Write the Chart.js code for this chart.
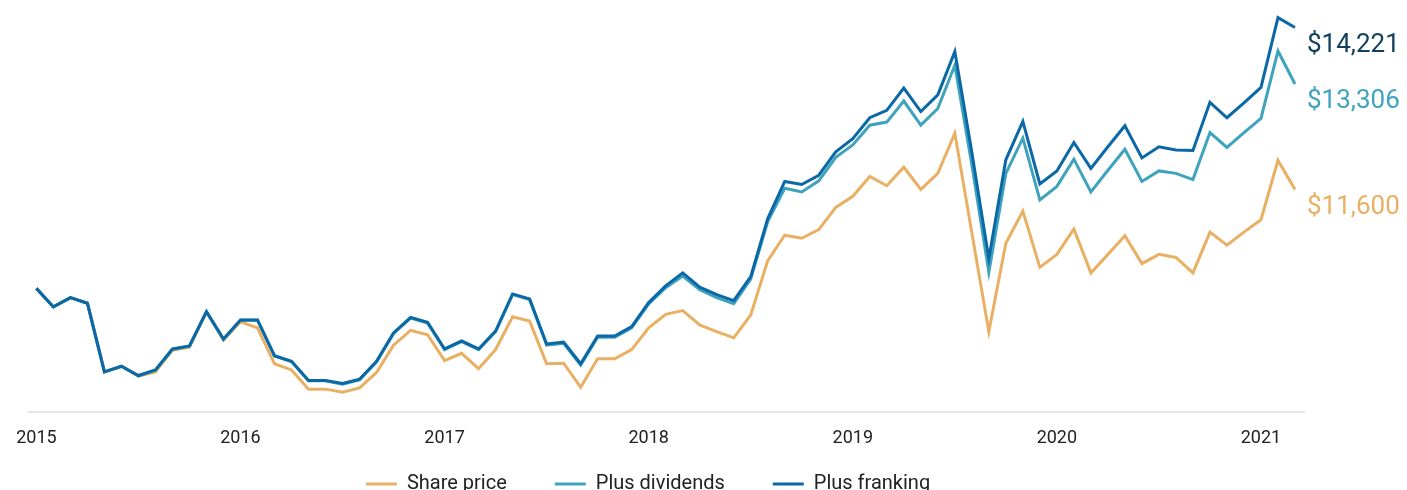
<!DOCTYPE html>
<html>
<head>
<meta charset="utf-8">
<script src="https://cdn.jsdelivr.net/npm/chart.js@4/dist/chart.umd.min.js"></script>
<style>
  html, body { margin: 0; padding: 0; background: #ffffff; overflow: hidden; }
  #wrap { position: relative; width: 1407px; height: 530px; }
</style>
</head>
<body>
<div id="wrap"><canvas id="c"></canvas></div>
<script>
// Year tick labels (one tick every 12 monthly points, starting Jan 2015)
const years = ['2015', '2016', '2017', '2018', '2019', '2020', '2021'];

// Series names
const seriesNames = ['Share price', 'Plus dividends', 'Plus franking'];

// Growth of $10,000 – monthly values, Jan 2015 to Mar 2021
const sharePrice = [
  10000, 9700, 9850, 9760, 8650, 8740, 8580, 8650, 9000, 9050,
  9620, 9160, 9460, 9360, 8780, 8680, 8370, 8370, 8320, 8390,
  8640, 9080, 9320, 9250, 8830, 8950, 8700, 9010, 9540, 9470,
  8780, 8790, 8400, 8860, 8860, 9010, 9360, 9580, 9640, 9410,
  9300, 9200, 9570, 10450, 10860, 10810, 10950, 11310, 11490, 11810,
  11660, 11960, 11600, 11860, 12510, 10900, 9300, 10730, 11250, 10340,
  10550, 10960, 10250, 10550, 10850, 10400, 10550, 10500, 10250, 10910,
  10700, 10910, 11110, 12070, 11600
];
const plusDividends = [
  10000, 9700, 9850, 9760, 8650, 8740, 8585, 8675, 9015, 9065,
  9620, 9175, 9485, 9485, 8905, 8815, 8505, 8505, 8450, 8520,
  8810, 9270, 9520, 9440, 9010, 9140, 9010, 9300, 9900, 9820,
  9080, 9110, 8760, 9210, 9210, 9360, 9750, 10010, 10200, 9980,
  9850, 9750, 10150, 11080, 11620, 11560, 11740, 12120, 12320, 12640,
  12690, 13030, 12640, 12910, 13610, 12000, 10260, 11860, 12430, 11430,
  11650, 12090, 11560, 11910, 12250, 11730, 11900, 11860, 11760, 12520,
  12280, 12520, 12750, 13840, 13306
];
const plusFranking = [
  10000, 9700, 9850, 9760, 8650, 8740, 8590, 8680, 9020, 9070,
  9625, 9180, 9490, 9490, 8910, 8820, 8510, 8510, 8460, 8530,
  8820, 9280, 9530, 9450, 9020, 9150, 9020, 9310, 9910, 9830,
  9100, 9130, 8780, 9230, 9230, 9380, 9770, 10040, 10250, 10020,
  9900, 9800, 10190, 11130, 11730, 11680, 11830, 12210, 12420, 12760,
  12880, 13240, 12860, 13130, 13830, 12200, 10480, 12080, 12700, 11690,
  11900, 12360, 11940, 12290, 12630, 12110, 12290, 12240, 12230, 13010,
  12760, 13000, 13250, 14380, 14221
];

const lineColors = ['#E9B064', '#3FA3BD', '#0A68A7'];
const endLabelColors = ['#E9B064', '#3FA3BD', '#12405E'];
const FONT = 'Roboto, "Liberation Sans", Arial, sans-serif';

const toPoints = arr => arr.map((v, i) => ({ x: i, y: v }));
const fmt = v => '$' + v.toLocaleString('en-US');

const endLabels = {
  id: 'endLabels',
  afterDatasetsDraw(chart) {
    const ctx = chart.ctx;
    ctx.save();
    ctx.font = '26px ' + FONT;
    ctx.textAlign = 'left';
    ctx.textBaseline = 'middle';
    chart.data.datasets.forEach((ds, i) => {
      const meta = chart.getDatasetMeta(i);
      const el = meta.data[meta.data.length - 1];
      const val = ds.data[ds.data.length - 1].y;
      ctx.fillStyle = endLabelColors[i];
      ctx.fillText(fmt(val), el.x + 12, el.y + 18);
    });
    ctx.restore();
  }
};

// Place the legend row just below the year labels
const legendPlace = {
  id: 'legendPlace',
  afterLayout(chart) {
    const lg = chart.legend;
    if (!lg) return;
    const h = lg.height;
    lg.top = 426;
    lg.bottom = lg.top + h;
    lg.left -= 18;
    lg.right -= 18;
  }
};

const seriesValues = [sharePrice, plusDividends, plusFranking];

new Chart(document.getElementById('c'), {
  type: 'line',
  data: {
    datasets: seriesValues.map((vals, i) => ({
      label: seriesNames[i],
      data: toPoints(vals),
      borderColor: lineColors[i],
      backgroundColor: lineColors[i],
      borderWidth: 3,
      pointRadius: 0,
      pointHoverRadius: 0,
      tension: 0,
      fill: false,
      order: 3 - i
    }))
  },
  options: {
    responsive: true,
    maintainAspectRatio: false,
    animation: false,
    layout: { padding: { top: 4, left: 28, right: 103, bottom: 0 } },
    plugins: {
      tooltip: { enabled: false },
      legend: {
        position: 'bottom',
        labels: {
          sort: (a, b) => a.datasetIndex - b.datasetIndex,
          usePointStyle: true,
          pointStyle: 'line',
          pointStyleWidth: 31,
          padding: 48,
          color: '#222222',
          font: { family: FONT, size: 20 }
        }
      }
    },
    scales: {
      x: {
        type: 'linear',
        min: -0.41,
        max: 74.53,
        grid: { display: false, drawTicks: false },
        border: { display: true, color: '#E6E6E6', width: 2 },
        afterBuildTicks: scale => { scale.ticks = years.map((y, k) => ({ value: k * 12 })); },
        afterFit: scale => { scale.height = 40; },
        ticks: {
          autoSkip: false,
          maxRotation: 0,
          padding: 16,
          color: '#222222',
          font: { family: FONT, size: 18 },
          callback: (value, index) => years[index]
        }
      },
      y: {
        display: false,
        min: 8000,
        max: 14600
      }
    }
  },
  plugins: [endLabels, legendPlace]
});
</script>
</body>
</html>
